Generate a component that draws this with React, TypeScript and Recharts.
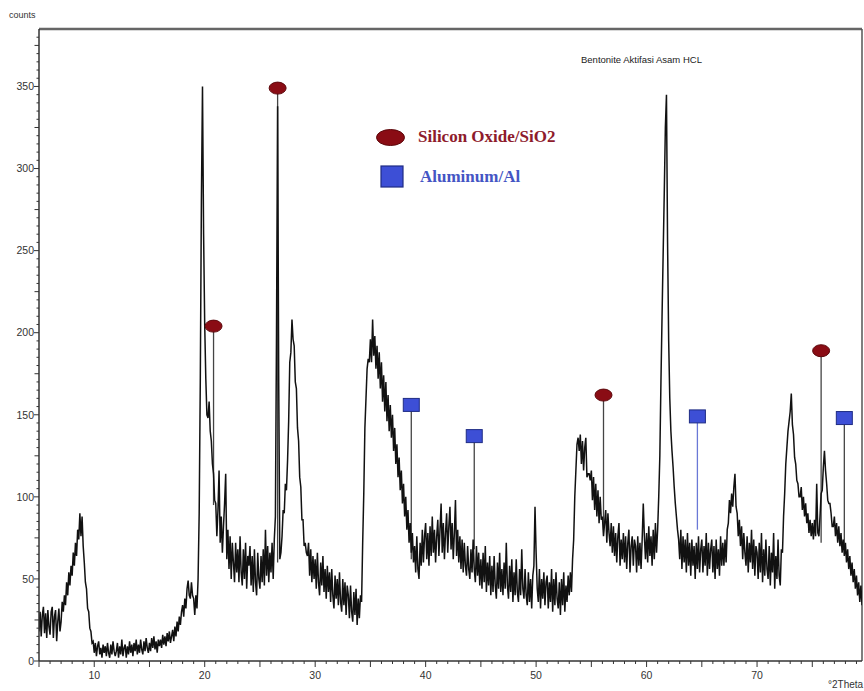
import React from 'react';
import { ComposedChart, Line, Scatter, XAxis, YAxis, ReferenceLine } from 'recharts';

// XRD scan: counts recorded every 0.1 °2Theta, one row per degree starting at the row's angle
const scanStep = 0.1;
const scanRows: [number, number[]][] = [
  [5, [18, 30, 15, 28, 33, 17, 29, 14, 31, 21]],
  [6, [16, 30, 33, 14, 27, 31, 12, 24, 32, 18]],
  [7, [24, 36, 30, 40, 34, 48, 40, 54, 46, 58]],
  [8, [52, 66, 58, 72, 64, 80, 74, 90, 76, 88]],
  [9, [70, 60, 48, 44, 32, 30, 20, 18, 11, 12]],
  [10, [5, 11, 3, 9, 12, 4, 8, 2, 10, 5]],
  [11, [9, 3, 11, 5, 2, 10, 4, 12, 6, 3]],
  [12, [6, 11, 2, 9, 4, 13, 3, 8, 10, 2]],
  [13, [9, 4, 12, 5, 10, 3, 11, 6, 13, 4]],
  [14, [10, 5, 13, 7, 4, 12, 6, 14, 8, 5]],
  [15, [11, 6, 14, 8, 15, 7, 12, 5, 13, 9]],
  [16, [13, 8, 16, 10, 15, 9, 17, 12, 18, 11]],
  [17, [15, 19, 12, 21, 15, 24, 18, 27, 22, 30]],
  [18, [34, 27, 38, 32, 44, 49, 40, 38, 48, 40]],
  [19, [38, 28, 40, 32, 50, 90, 170, 280, 350, 260]],
  [20, [205, 172, 150, 148, 158, 140, 134, 120, 114, 98]],
  [21, [96, 76, 92, 116, 72, 88, 66, 82, 96, 114]],
  [22, [62, 80, 56, 76, 50, 72, 60, 48, 72, 54]],
  [23, [68, 48, 76, 54, 46, 68, 50, 72, 44, 64]],
  [24, [58, 70, 46, 64, 42, 68, 48, 40, 66, 50]],
  [25, [44, 64, 48, 68, 46, 80, 52, 70, 48, 66]],
  [26, [54, 72, 50, 74, 88, 200, 338, 170, 62, 66]],
  [27, [76, 92, 90, 108, 104, 122, 146, 182, 188, 208]],
  [28, [196, 192, 170, 166, 142, 134, 112, 106, 86, 86]],
  [29, [70, 72, 66, 64, 72, 52, 68, 48, 64, 50]],
  [30, [62, 44, 66, 48, 40, 60, 46, 64, 42, 56]],
  [31, [38, 58, 42, 54, 36, 56, 40, 32, 52, 38]],
  [32, [50, 34, 54, 36, 30, 50, 34, 48, 28, 46]],
  [33, [40, 26, 46, 30, 24, 42, 28, 44, 22, 38]],
  [34, [26, 40, 36, 72, 102, 142, 160, 178, 184, 182]],
  [35, [196, 182, 208, 186, 198, 178, 192, 172, 188, 166]],
  [36, [182, 158, 174, 152, 170, 146, 162, 140, 156, 136]],
  [37, [150, 128, 142, 120, 132, 112, 124, 104, 116, 96]],
  [38, [108, 88, 100, 80, 92, 72, 84, 66, 78, 60]],
  [39, [70, 54, 76, 56, 50, 72, 58, 80, 60, 76]],
  [40, [84, 62, 78, 58, 82, 64, 88, 66, 80, 60]],
  [41, [76, 86, 64, 80, 96, 66, 84, 62, 78, 90]],
  [42, [66, 82, 94, 68, 84, 62, 78, 98, 64, 80]],
  [43, [60, 76, 56, 74, 54, 72, 58, 52, 70, 56]],
  [44, [50, 68, 54, 74, 56, 48, 70, 52, 66, 46]],
  [45, [62, 44, 66, 48, 70, 42, 60, 46, 64, 40]],
  [46, [58, 42, 64, 46, 38, 60, 44, 66, 42, 56]],
  [47, [40, 60, 44, 72, 46, 38, 58, 42, 62, 36]],
  [48, [54, 40, 62, 42, 36, 56, 40, 68, 44, 38]],
  [49, [56, 40, 34, 54, 36, 50, 32, 52, 58, 94]],
  [50, [66, 44, 36, 56, 32, 50, 38, 54, 34, 48]],
  [51, [52, 32, 48, 36, 56, 30, 50, 34, 54, 38]],
  [52, [32, 48, 28, 50, 34, 54, 30, 46, 36, 52]],
  [53, [40, 54, 42, 62, 74, 100, 116, 132, 136, 128]],
  [54, [138, 120, 134, 116, 130, 136, 112, 114, 114, 110]],
  [55, [116, 98, 112, 92, 108, 88, 104, 84, 100, 86]],
  [56, [88, 76, 84, 92, 72, 90, 78, 70, 84, 66]],
  [57, [82, 64, 78, 60, 76, 84, 58, 74, 62, 78]],
  [58, [60, 76, 56, 72, 80, 54, 70, 76, 58, 74]],
  [59, [70, 54, 76, 58, 72, 56, 74, 96, 76, 62]],
  [60, [78, 60, 82, 64, 76, 58, 80, 62, 84, 66]],
  [61, [80, 100, 125, 170, 210, 248, 285, 325, 345, 255]],
  [62, [195, 160, 140, 128, 118, 106, 96, 88, 80, 74]],
  [63, [62, 80, 56, 76, 60, 74, 54, 78, 58, 72]],
  [64, [52, 74, 58, 70, 50, 72, 56, 76, 54, 68]],
  [65, [74, 54, 70, 58, 78, 52, 72, 56, 68, 74]],
  [66, [54, 70, 50, 74, 56, 68, 52, 76, 58, 72]],
  [67, [58, 74, 60, 80, 84, 98, 90, 102, 94, 106]],
  [68, [114, 94, 90, 76, 86, 70, 82, 62, 78, 66]],
  [69, [58, 76, 54, 72, 60, 80, 56, 74, 52, 70]],
  [70, [66, 50, 72, 54, 78, 48, 68, 52, 74, 56]],
  [71, [50, 70, 46, 66, 54, 78, 44, 64, 50, 74]],
  [72, [52, 46, 68, 66, 88, 102, 120, 130, 140, 146]],
  [73, [152, 163, 144, 138, 124, 120, 110, 108, 100, 100]],
  [74, [106, 92, 100, 88, 96, 84, 90, 78, 86, 76]],
  [75, [84, 74, 86, 76, 108, 78, 76, 88, 102, 104]],
  [76, [118, 128, 116, 108, 98, 96, 96, 90, 82, 82]],
  [77, [88, 76, 84, 72, 82, 70, 78, 66, 74, 64]],
  [78, [72, 60, 68, 56, 64, 52, 60, 48, 56, 44]],
  [79, [52, 40, 48, 36, 46, 34]],
];

// Phase identification sticks
const sio2Positions = [20.8, 26.6, 56.1, 75.8];
const sio2Tops = [204, 349, 162, 189];
const sio2Bases = [95, 60, 80, 72];

const alPositions = [38.7, 44.4, 64.6, 77.9];
const alTops = [156, 137, 149, 148];
const alBases = [62, 68, 80, 70];

const xLabelTicks = [10, 20, 30, 40, 50, 60, 70];
const yLabelTicks = [0, 50, 100, 150, 200, 250, 300, 350];

const X_MIN = 5;
const X_MAX = 79.5;
const Y_MAX = 385;

const scanData = scanRows.flatMap(([start, vals]) =>
  vals.map((v, i) => ({ x: Math.round((start + i * scanStep) * 10) / 10, y: v }))
);
const sio2Markers = sio2Positions.map((x, i) => ({ x, y: sio2Tops[i] }));
const alMarkers = alPositions.map((x, i) => ({ x, y: alTops[i] }));

const xTicks: number[] = [];
for (let t = 5; t <= 79; t += 1) xTicks.push(t);
const yTicks: number[] = [];
for (let t = 0; t <= 380; t += 5) yTicks.push(t);

const AXIS = '#333';
const FONT = '"Liberation Sans Narrow", "Liberation Sans", Arial, sans-serif';

const YTick = (props: any) => {
  const { x, y, payload } = props;
  const v = payload.value;
  const labelled = yLabelTicks.includes(v);
  const len = labelled ? 5 : v % 25 === 0 ? 4.5 : 2.5;
  return (
    <g>
      <line x1={x - len} x2={x} y1={y} y2={y} stroke={AXIS} strokeWidth={1} />
      {labelled && (
        <text x={x - 5} y={y} dy={3.8} textAnchor="end" fontSize={10.5} fill="#333" fontFamily={FONT}>
          {v}
        </text>
      )}
    </g>
  );
};

const XTick = (props: any) => {
  const { x, y, payload } = props;
  const v = payload.value;
  const labelled = xLabelTicks.includes(v);
  const len = labelled || v % 5 === 0 ? 6 : 3;
  return (
    <g>
      <line x1={x} x2={x} y1={y} y2={y + len} stroke={AXIS} strokeWidth={1} />
      {labelled && (
        <text x={x} y={y + 18} textAnchor="middle" fontSize={10.5} fill="#333" fontFamily={FONT}>
          {v}
        </text>
      )}
    </g>
  );
};

const EllipseMarker = (props: any) => {
  const { cx, cy } = props;
  return <ellipse cx={cx} cy={cy} rx={8.5} ry={6} fill="#8a0c14" stroke="#5c060a" strokeWidth={1} />;
};

const SquareMarker = (props: any) => {
  const { cx, cy } = props;
  return <rect x={cx - 8} y={cy - 6.5} width={16} height={13} fill="#3d4fd6" stroke="#1f2c84" strokeWidth={1} />;
};

export default function App() {
  return (
    <div
      style={{
        position: 'absolute',
        left: 0,
        top: 0,
        width: 864,
        height: 691,
        overflow: 'hidden',
        background: '#fff',
        fontFamily: FONT,
      }}
    >
      <ComposedChart width={864} height={691} data={scanData} margin={{ top: 29, right: 2, bottom: 0, left: 0 }}>
        <XAxis
          type="number"
          dataKey="x"
          domain={[X_MIN, X_MAX]}
          ticks={xTicks}
          interval={0}
          tick={XTick}
          tickLine={false}
          tickSize={0}
          tickMargin={0}
          height={30}
          allowDataOverflow
          axisLine={{ stroke: AXIS, strokeWidth: 1.5 }}
        />
        <YAxis
          type="number"
          dataKey="y"
          domain={[0, Y_MAX]}
          ticks={yTicks}
          interval={0}
          tick={YTick}
          tickLine={false}
          tickSize={0}
          tickMargin={0}
          width={39}
          allowDataOverflow
          axisLine={{ stroke: AXIS, strokeWidth: 1.5 }}
        />
        <ReferenceLine y={Y_MAX} stroke="#666" strokeWidth={2.5} />
        <ReferenceLine x={X_MAX} stroke="#555" strokeWidth={1.5} />
        {sio2Positions.map((x, i) => (
          <ReferenceLine
            key={'s' + x}
            segment={[
              { x, y: sio2Bases[i] },
              { x, y: sio2Tops[i] },
            ]}
            stroke="#444"
            strokeWidth={1.3}
          />
        ))}
        {alPositions.map((x, i) => (
          <ReferenceLine
            key={'a' + x}
            segment={[
              { x, y: alBases[i] },
              { x, y: alTops[i] },
            ]}
            stroke={i === 2 ? '#6a78d6' : '#444'}
            strokeWidth={1.3}
          />
        ))}
        <Line
          type="linear"
          dataKey="y"
          stroke="#111"
          strokeWidth={1.5}
          dot={false}
          activeDot={false}
          isAnimationActive={false}
        />
        <Scatter data={sio2Markers} dataKey="y" shape={EllipseMarker} isAnimationActive={false} />
        <Scatter data={alMarkers} dataKey="y" shape={SquareMarker} isAnimationActive={false} />
      </ComposedChart>

      <div style={{ position: 'absolute', left: 9, top: 10, fontSize: 9, color: '#333', fontFamily: FONT }}>counts</div>
      <div style={{ position: 'absolute', left: 581, top: 54, fontSize: 9.5, color: '#222', fontFamily: '"Liberation Sans", Arial, sans-serif' }}>
        Bentonite Aktifasi Asam HCL
      </div>
      <div style={{ position: 'absolute', left: 828, top: 679, fontSize: 10, color: '#333', whiteSpace: 'nowrap' }}>°2Theta</div>

      <svg style={{ position: 'absolute', left: 0, top: 0 }} width={864} height={691} pointerEvents="none">
        <ellipse cx={390.5} cy={137.5} rx={14} ry={8} fill="#8a0c14" stroke="#5c060a" strokeWidth={1} />
        <rect x={381} y={166} width={22} height={21} fill="#3d4fd6" stroke="#1f2c84" strokeWidth={1.2} />
        <text x={418} y={142} fontSize={17} fontWeight="bold" fill="#8e1b2c" fontFamily='"Liberation Serif", "Times New Roman", serif'>
          Silicon Oxide/SiO2
        </text>
        <text x={420} y={182} fontSize={17} fontWeight="bold" fill="#4455c4" fontFamily='"Liberation Serif", "Times New Roman", serif'>
          Aluminum/Al
        </text>
      </svg>
    </div>
  );
}
